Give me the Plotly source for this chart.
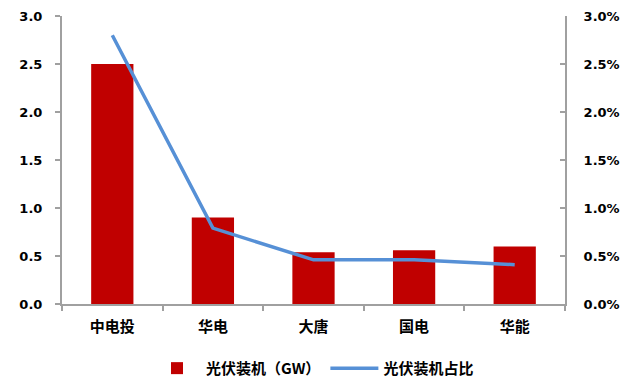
import plotly.graph_objects as go

categories = ["中电投", "华电", "大唐", "国电", "华能"]
pv_capacity_gw = [2.50, 0.90, 0.54, 0.56, 0.60]
pv_share = [0.0280, 0.0079, 0.0046, 0.0046, 0.0041]
left_ticks = [0, 0.5, 1.0, 1.5, 2.0, 2.5, 3.0]
right_ticks = [0, 0.005, 0.010, 0.015, 0.020, 0.025, 0.030]

AXIS_GRAY = "#A0A0A0"
num_font = dict(family="DejaVu Sans", size=13, color="black", weight="bold")
cjk_font = dict(family="Noto Sans CJK SC", size=15, color="black", weight="bold")

fig = go.Figure()
fig.add_bar(
    x=categories, y=pv_capacity_gw, name="光伏装机（GW）",
    marker=dict(color="#C00000", line=dict(width=0)), width=0.42, yaxis="y",
)
fig.add_scatter(
    x=categories, y=pv_share, name="光伏装机占比", mode="lines",
    line=dict(color="#5690D6", width=3.5), yaxis="y2",
)

fig.update_layout(
    width=636, height=379,
    margin=dict(l=62, r=71, t=16, b=75, autoexpand=False),
    plot_bgcolor="white", paper_bgcolor="white",
    showlegend=True,
    legend=dict(
        orientation="h", x=0.5, xanchor="center",
        yref="container", y=0.028, yanchor="middle",
        font=dict(family="Noto Sans CJK SC", size=15, color="black", weight="bold"),
        itemwidth=48, traceorder="normal",
    ),
    xaxis=dict(
        showline=True, linecolor=AXIS_GRAY, linewidth=2,
        ticks="outside", tickson="boundaries", ticklen=5, tickcolor=AXIS_GRAY, tickwidth=2,
        ticklabelstandoff=8,
        tickfont=cjk_font, showgrid=False, zeroline=False,
    ),
    yaxis=dict(
        range=[0, 3], tickvals=left_ticks, tickformat=".1f",
        showline=True, linecolor=AXIS_GRAY, linewidth=2,
        ticks="outside", ticklen=5, tickcolor=AXIS_GRAY, tickwidth=2,
        ticklabelstandoff=10,
        tickfont=num_font, showgrid=False, zeroline=False,
    ),
    yaxis2=dict(
        overlaying="y", side="right", range=[0, 0.03], tickvals=right_ticks, tickformat=".1%",
        showline=True, linecolor=AXIS_GRAY, linewidth=2,
        ticks="inside", ticklen=5, tickcolor=AXIS_GRAY, tickwidth=2,
        ticklabelstandoff=14,
        tickfont=num_font, showgrid=False, zeroline=False,
    ),
)

fig.write_html("out.html")
